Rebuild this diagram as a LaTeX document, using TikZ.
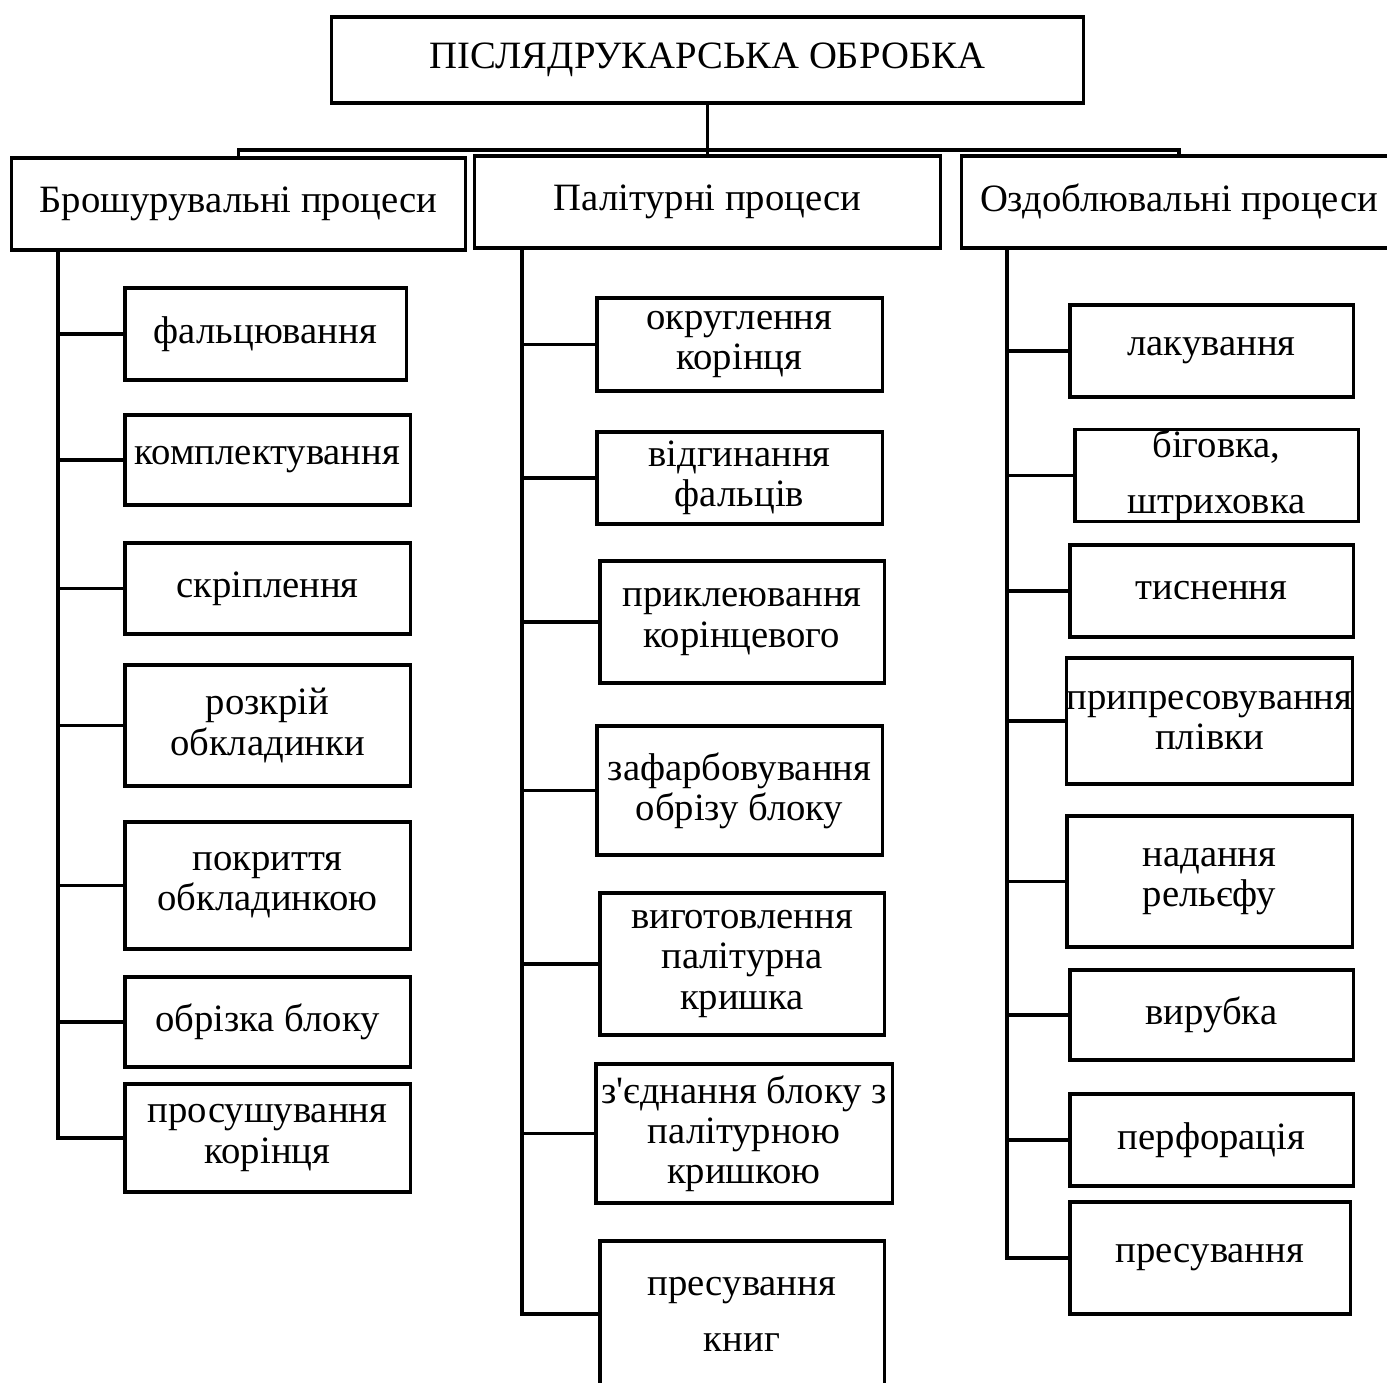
\documentclass[tikz,border=0pt]{standalone}
\usepackage{fontspec}
\setmainfont{Liberation Serif}
\newfontfamily\apfont{Liberation Serif}
\usetikzlibrary{positioning,calc}

\tikzset{
    box/.style={draw, line width=0.9pt, align=center, inner sep=0pt,
        font=\fontsize{11}{11.4}\selectfont},
    link/.style={line width=0.9pt}
}

\begin{document}
\begin{tikzpicture}[x=0.01cm, y=-0.01cm]

        \useasboundingbox (0,0) rectangle (1387,1383);

        % top
        \node[box, minimum width=7.51cm, minimum height=0.86cm] (top) at (707.5,60) {ПІСЛЯДРУКАРСЬКА ОБРОБКА};

        \node[box, minimum width=4.53cm, minimum height=0.92cm] (bro) at (238.5,204) {Брошурувальні процеси};
        \node[box, minimum width=4.65cm, minimum height=0.92cm] (pal) at (707.5,202) {Палітурні процеси};
        \node[box, minimum width=4.34cm, minimum height=0.92cm] (ozd) at (1179,202) {Оздоблювальні процеси};

        \coordinate (bar) at (707.5,150);
        \draw[link] (top.south) -- (bar);
        \draw[link] (bro.north) |- (bar) -| (ozd.north);
        \draw[link] (bar) -- (pal.north);

        % Брошурувальні
        \node[box, minimum width=2.81cm, minimum height=0.92cm] (a1) at (265.5,334) {фальцювання};
        \node[box, minimum width=2.85cm, minimum height=0.90cm] (a2) at (267.5,460) {комплектування};
        \node[box, minimum width=2.85cm, minimum height=0.91cm] (a3) at (267.5,588.5) {скріплення};
        \node[box, minimum width=2.85cm, minimum height=1.21cm] (a4) at (267.5,725.5) {розкрій\\обкладинки};
        \node[box, minimum width=2.85cm, minimum height=1.27cm] (a5) at (267.5,885.5) {покриття\\обкладинкою};
        \node[box, minimum width=2.85cm, minimum height=0.90cm] (a6) at (267.5,1022) {обрізка блоку};
        \node[box, minimum width=2.85cm, minimum height=1.08cm] (a7) at (267.5,1138) {просушування\\корінця};

        \coordinate (sa) at (58,250);
        \draw[link] (sa) |- (a7.west);
        \foreach \n in {a1,a2,a3,a4,a5,a6}
            \draw[link] (sa |- \n.west) -- (\n.west);

        % Палітурні
        \node[box, minimum width=2.85cm, minimum height=0.93cm] (b1) at (739.5,344.5) {округлення\\корінця};
        \node[box, minimum width=2.85cm, minimum height=0.92cm] (b2) at (739.5,478) {відгинання\\фальців};
        \node[box, minimum width=2.84cm, minimum height=1.22cm] (b3) at (742,622) {приклеювання\\корінцевого};
        \node[box, minimum width=2.85cm, minimum height=1.29cm] (b4) at (739.5,790.5) {зафарбовування\\обрізу блоку};
        \node[box, minimum width=2.84cm, minimum height=1.42cm] (b5) at (742,964) {виготовлення\\палітурна\\кришка};
        \node[box, minimum width=2.96cm, minimum height=1.39cm] (b6) at (744,1133.5) {з{\apfont '}єднання блоку з\\палітурною\\кришкою};
        \node[box, minimum width=2.84cm, minimum height=1.46cm] (b7) at (742,1314) {пресування\\[4.5pt]книг};

        \coordinate (sb) at (522,248);
        \draw[link] (sb) |- (b7.west);
        \foreach \n in {b1,b2,b3,b4,b5,b6}
            \draw[link] (sb |- \n.west) -- (\n.west);

        % Оздоблювальні
        \node[box, minimum width=2.83cm, minimum height=0.92cm] (c1) at (1211.5,351) {лакування};
        \node[box, minimum width=2.83cm, minimum height=0.91cm] (c2) at (1216.5,475.5) {біговка,\\[4.5pt]штриховка};
        \node[box, minimum width=2.83cm, minimum height=0.92cm] (c3) at (1211.5,591) {тиснення};
        \node[box, minimum width=2.85cm, minimum height=1.26cm] (c4) at (1209.5,721) {припресовування\\плівки};
        \node[box, minimum width=2.85cm, minimum height=1.31cm] (c5) at (1209.5,881.5) {надання\\рельєфу};
        \node[box, minimum width=2.83cm, minimum height=0.90cm] (c6) at (1211.5,1015) {вирубка};
        \node[box, minimum width=2.83cm, minimum height=0.92cm] (c7) at (1211.5,1140) {перфорація};
        \node[box, minimum width=2.80cm, minimum height=1.12cm] (c8) at (1210,1258) {пресування};

        \coordinate (sc) at (1007,248);
        \draw[link] (sc) |- (c8.west);
        \foreach \n in {c1,c2,c3,c4,c5,c6,c7}
            \draw[link] (sc |- \n.west) -- (\n.west);

\end{tikzpicture}
\end{document}
